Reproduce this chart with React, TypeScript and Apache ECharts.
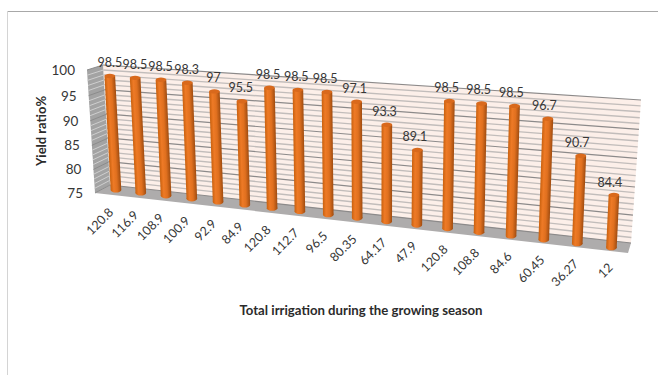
import React, { useEffect, useRef } from "react";
import * as echarts from "echarts";

const categories = ["120.8", "116.9", "108.9", "100.9", "92.9", "84.9", "120.8", "112.7", "96.5", "80.35", "64.17", "47.9", "120.8", "108.8", "84.6", "60.45", "36.27", "12"];
const yieldRatio = [98.5, 98.5, 98.5, 98.3, 97, 95.5, 98.5, 98.5, 98.5, 97.1, 93.3, 89.1, 98.5, 98.5, 98.5, 96.7, 90.7, 84.4];
const yTicks = [75, 80, 85, 90, 95, 100];
const yGridLevels = [75, 76, 77, 78, 79, 80, 81, 82, 83, 84, 85, 86, 87, 88, 89, 90, 91, 92, 93, 94, 95, 96, 97, 98, 99, 100];

type Pt = [number, number];

// Projective map taking the unit square onto a quad (corners: bl, br, tr, tl).
function quadMap(q: Pt[]) {
  const [[x0, y0], [x1, y1], [x2, y2], [x3, y3]] = q;
  const dx1 = x1 - x2, dx2 = x3 - x2, sx = x0 - x1 + x2 - x3;
  const dy1 = y1 - y2, dy2 = y3 - y2, sy = y0 - y1 + y2 - y3;
  const den = dx1 * dy2 - dx2 * dy1;
  const g = (sx * dy2 - dx2 * sy) / den;
  const h = (dx1 * sy - sx * dy1) / den;
  const a = x1 - x0 + g * x1, b = x3 - x0 + h * x3;
  const d = y1 - y0 + g * y1, e = y3 - y0 + h * y3;
  return (u: number, v: number): Pt => {
    const w = g * u + h * v + 1;
    return [(a * u + b * v + x0) / w, (d * u + e * v + y0) / w];
  };
}

// The 3D box of the chart, seen from above with a strong perspective.
const barPlane = quadMap([[116, 190], [611.4, 247.7], [618.3, 104.7], [109.4, 68.5]]);
const backWall = quadMap([[110, 185], [631, 243], [641, 100], [103, 65]]);
const sideWall = quadMap([[95, 193], [110, 185], [103, 65], [87, 70]]);
const floorQuad: Pt[] = [[95, 193], [110, 185], [631, 243], [628, 253]];
const FONT = "Lato";
const TEXT = "#363636";

const App = () => {
  const ref = useRef<HTMLDivElement>(null);
  useEffect(() => {
    const chart = echarts.init(ref.current!, null, { renderer: "svg" });

    // Axis-space helpers: column position and value level inside the hidden grid.
    const level = (api: any, cs: any, v: number) => {
      const py = api.coord([0, v])[1];
      return (cs.y + cs.height - py) / cs.height;
    };
    const column = (api: any, cs: any, i: number) => {
      const px = api.coord([i, 75])[0];
      return ((px - cs.x) / cs.width) * categories.length / (categories.length - 1) - 0.5 / (categories.length - 1);
    };

    const shell = (params: any, api: any) => {
      const top = level(api, params.coordSys, 100);
      return {
        type: "group",
        children: [
          { type: "polygon", shape: { points: [backWall(0, 0), backWall(1, 0), backWall(1, top), backWall(0, top)] }, style: { fill: "#fcefe9" } },
          { type: "polygon", shape: { points: [sideWall(0, 0), sideWall(1, 0), sideWall(1, top), sideWall(0, top)] }, style: { fill: "#a3a3a3" } },
          { type: "polygon", shape: { points: floorQuad }, style: { fill: "#aeacac" } },
        ],
      };
    };

    const gridLine = (params: any, api: any) => {
      const v = api.value(0);
      const t = level(api, params.coordSys, v);
      const major = v % 5 === 0;
      const a = backWall(0, t), b = backWall(1, t), c = sideWall(0, t), d = sideWall(1, t);
      return {
        type: "group",
        children: [
          { type: "line", shape: { x1: a[0], y1: a[1], x2: b[0], y2: b[1] }, style: { stroke: major ? "#8c8a8a" : "#c2bdbb", lineWidth: major ? 1.2 : 1.4 } },
          { type: "line", shape: { x1: c[0], y1: c[1], x2: d[0], y2: d[1] }, style: { stroke: major ? "#8c8c8c" : "#cfcfcf", lineWidth: 1 } },
        ],
      };
    };

    const cylinder = (params: any, api: any) => {
      const i = api.value(0);
      const v = api.value(1);
      const cs = params.coordSys;
      const u = column(api, cs, i);
      const base = barPlane(u, level(api, cs, 75));
      const top = barPlane(u, level(api, cs, v));
      const r = 5.3;
      const ax = top[0] - base[0], ay = top[1] - base[1];
      const len = Math.hypot(ax, ay);
      const nx = -ay / len, ny = ax / len;
      const side = nx < 0 ? -1 : 1;
      const lx = nx * r * side, ly = ny * r * side;
      const body = new echarts.graphic.LinearGradient(
        base[0] - lx, base[1] - ly, base[0] + lx, base[1] + ly,
        [
          { offset: 0, color: "#c9610f" },
          { offset: 0.3, color: "#ee7a26" },
          { offset: 0.62, color: "#e0701f" },
          { offset: 1, color: "#a04c10" },
        ],
        true
      );
      const last = i === categories.length - 1;
      const shift = -(i / (categories.length - 1)) * 4;
      return {
        type: "group",
        children: [
          { type: "ellipse", shape: { cx: base[0], cy: base[1], rx: r, ry: 2.6 }, style: { fill: body } },
          {
            type: "polygon",
            shape: { points: [[base[0] - lx, base[1] - ly], [base[0] + lx, base[1] + ly], [top[0] + lx, top[1] + ly], [top[0] - lx, top[1] - ly]] },
            style: { fill: body },
          },
          { type: "ellipse", shape: { cx: top[0], cy: top[1], rx: r, ry: 2.2 }, style: { fill: "#d9691c" } },
          {
            type: "text",
            style: {
              x: top[0] + shift,
              y: top[1] - (last ? 12 : 13.5),
              text: String(v),
              fill: TEXT,
              font: `12.5px ${FONT}`,
              align: "center",
              verticalAlign: "middle",
            },
          },
        ],
      };
    };

    const categoryLabel = (params: any, api: any) => {
      const i = api.value(0);
      const cs = params.coordSys;
      const base = barPlane(column(api, cs, i), level(api, cs, 75));
      const f = i / (categories.length - 1);
      return {
        type: "text",
        x: base[0] - 5 + 4 * f,
        y: base[1] + 20 - 2.4 * f,
        rotation: Math.PI / 4,
        style: {
          x: 0,
          y: 0,
          text: categories[i],
          fill: TEXT,
          font: `12.5px ${FONT}`,
          align: "right",
          verticalAlign: "middle",
        },
      };
    };

    const valueLabel = (params: any, api: any) => {
      const v = api.value(0);
      const t = level(api, params.coordSys, v);
      const edge = sideWall(0, t);
      return {
        type: "text",
        style: {
          x: edge[0] - 12,
          y: edge[1],
          text: String(v),
          fill: TEXT,
          font: `13.5px ${FONT}`,
          align: "right",
          verticalAlign: "middle",
        },
      };
    };

    chart.setOption({
      animation: false,
      backgroundColor: "#ffffff",
      grid: { left: 0, right: 0, top: 0, bottom: 0 },
      xAxis: { type: "category", data: categories, show: false },
      yAxis: { type: "value", min: 75, max: 100, interval: 5, show: false },
      graphic: [
        { type: "line", shape: { x1: 7.5, y1: 11.5, x2: 658, y2: 11.5 }, style: { stroke: "#a8a8a8", lineWidth: 1 } },
        { type: "line", shape: { x1: 7.5, y1: 11.5, x2: 7.5, y2: 375 }, style: { stroke: "#d4d4d4", lineWidth: 1 } },
        {
          type: "text",
          style: { x: 361, y: 310, text: "Total irrigation during the growing season", fill: "#2b2b2b", font: `bold 13.2px ${FONT}`, align: "center", verticalAlign: "middle" },
        },
        {
          type: "text",
          x: 41,
          y: 131,
          rotation: Math.PI / 2,
          style: { x: 0, y: 0, text: "Yield ratio%", fill: "#2b2b2b", font: `bold 13px ${FONT}`, align: "center", verticalAlign: "middle" },
        },
      ],
      series: [
        { type: "custom", name: "walls", silent: true, z: 1, data: [[0]], renderItem: shell },
        { type: "custom", name: "grid", silent: true, z: 2, data: yGridLevels.map((v) => [v]), encode: { y: 0 }, renderItem: gridLine },
        { type: "custom", name: "Yield ratio%", z: 3, data: yieldRatio.map((v, i) => [i, v]), encode: { x: 0, y: 1 }, renderItem: cylinder },
        { type: "custom", name: "categories", silent: true, z: 4, data: categories.map((_, i) => [i]), encode: { x: 0 }, renderItem: categoryLabel },
        { type: "custom", name: "ticks", silent: true, z: 4, data: yTicks.map((v) => [v]), encode: { y: 0 }, renderItem: valueLabel },
      ],
    });
    return () => chart.dispose();
  }, []);
  return <div ref={ref} style={{ position: "fixed", left: 0, top: 0, width: 658, height: 375 }} />;
};

export default App;
